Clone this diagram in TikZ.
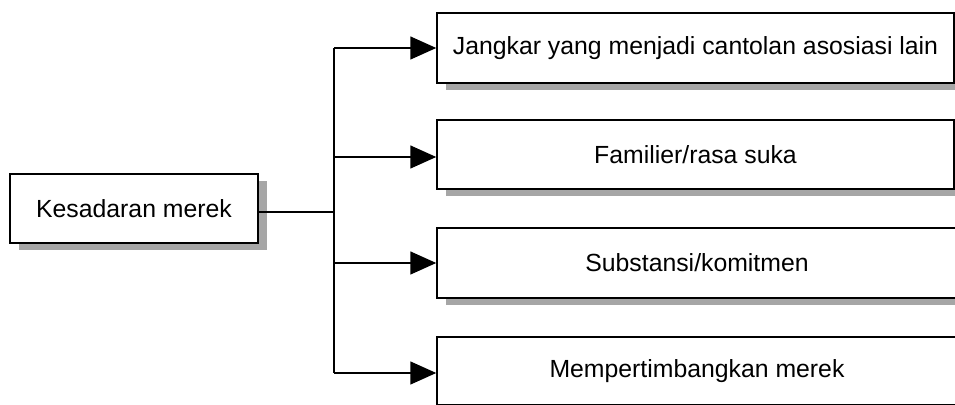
\documentclass[tikz,border=0pt]{standalone}
\usepackage{fontspec}
\setmainfont{Liberation Sans}
\usetikzlibrary{arrows.meta,shadows}
\begin{document}
\begin{tikzpicture}[x=0.5pt,y=-0.5pt,
  box/.style={draw=black, line width=0.75pt, fill=white, inner sep=0pt,
    font=\fontsize{12.4pt}{14pt}\selectfont,
    drop shadow={shadow xshift=4.5pt, shadow yshift=-3.5pt, fill=black!35, opacity=1}},
  conn/.style={line width=0.75pt},
  arr/.style={conn, -{Triangle[length=13pt,width=11.5pt]}}]
\path[use as bounding box, clip] (0,0) rectangle (955,405);
\fill[white] (0,0) rectangle (955,405);
\node[box, minimum width=124pt, minimum height=34.5pt] (k) at (134,208.5) {Kesadaran merek};
\node[box, minimum width=258.5pt, minimum height=35pt] (b1) at (695.5,48) {Jangkar yang menjadi cantolan asosiasi lain};
\node[box, minimum width=258.5pt, minimum height=34.5pt] (b2) at (695.5,154.5) {Familier/rasa suka};
\node[box, minimum width=260pt, minimum height=35pt] (b3) at (697,263) {Substansi/komitmen};
\node[box, minimum width=260pt, minimum height=34pt] (b4) at (697,371) {Mempertimbangkan merek};
\coordinate (j) at (334,212);
\coordinate (a1) at (334,48);
\coordinate (a2) at (334,157);
\coordinate (a3) at (334,263);
\coordinate (a4) at (334,373);
\draw[conn] (k.east |- j) -- (j);
\draw[conn] (a1) -- (a4);
\draw[arr] (a1) -- (b1.west |- a1);
\draw[arr] (a2) -- (b2.west |- a2);
\draw[arr] (a3) -- (b3.west |- a3);
\draw[arr] (a4) -- (b4.west |- a4);
\end{tikzpicture}
\end{document}
